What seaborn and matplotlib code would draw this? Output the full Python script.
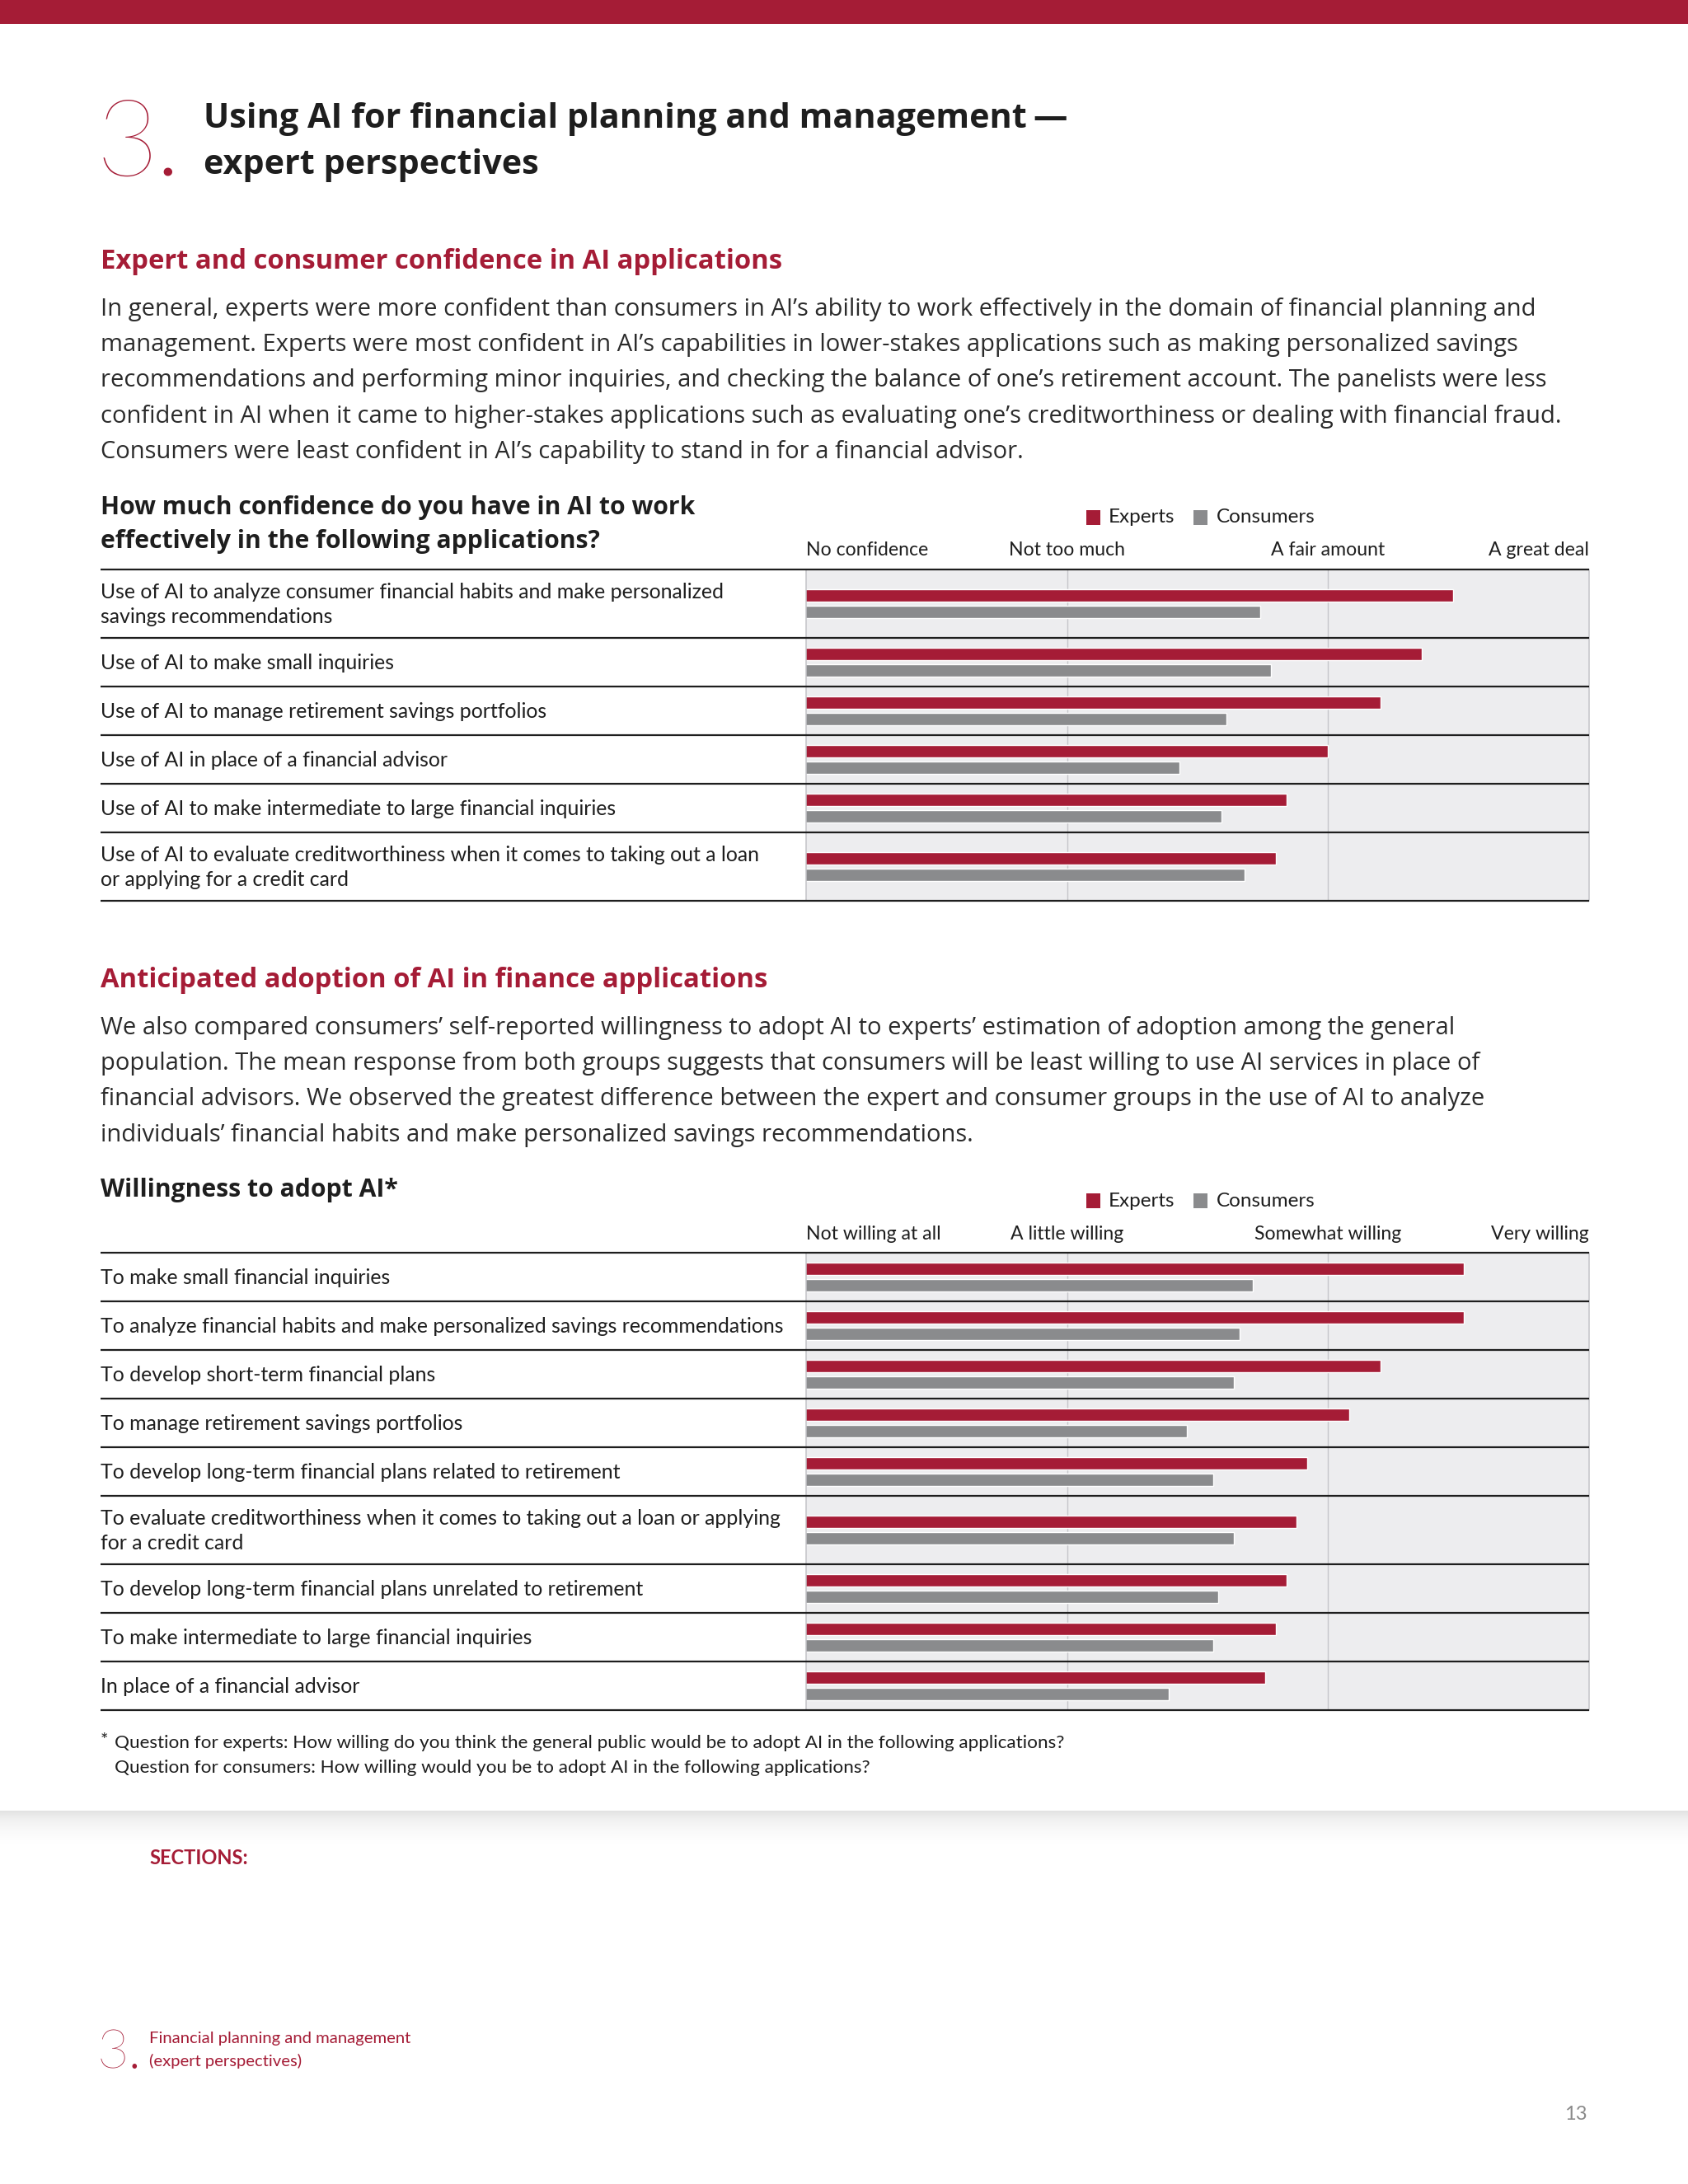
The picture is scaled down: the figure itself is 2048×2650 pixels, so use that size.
import numpy as np
import pandas as pd
import seaborn as sns
import matplotlib.pyplot as plt
from matplotlib.patches import Rectangle

# ---- data ----
conf_labels = [
    "Use of AI to analyze consumer financial habits and make personalized\nsavings recommendations",
    "Use of AI to make small inquiries",
    "Use of AI to manage retirement savings portfolios",
    "Use of AI in place of a financial advisor",
    "Use of AI to make intermediate to large financial inquiries",
    "Use of AI to evaluate creditworthiness when it comes to taking out a loan\nor applying for a credit card",
]
conf_experts = [3.48, 3.36, 3.20, 3.00, 2.84, 2.80]
conf_consumers = [2.74, 2.78, 2.61, 2.43, 2.59, 2.68]
conf_ticks = ["No confidence", "Not too much", "A fair amount", "A great deal"]

adopt_labels = [
    "To make small financial inquiries",
    "To analyze financial habits and make personalized savings recommendations",
    "To develop short-term financial plans",
    "To manage retirement savings portfolios",
    "To develop long-term financial plans related to retirement",
    "To evaluate creditworthiness when it comes to taking out a loan or applying\nfor a credit card",
    "To develop long-term financial plans unrelated to retirement",
    "To make intermediate to large financial inquiries",
    "In place of a financial advisor",
]
adopt_experts = [3.52, 3.52, 3.20, 3.08, 2.92, 2.88, 2.84, 2.80, 2.76]
adopt_consumers = [2.71, 2.66, 2.64, 2.46, 2.56, 2.64, 2.58, 2.56, 2.39]
adopt_ticks = ["Not willing at all", "A little willing", "Somewhat willing", "Very willing"]

groups = ["Experts", "Consumers"]

para1 = [
    "In general, experts were more confident than consumers in AI\u2019s ability to work effectively in the domain of financial planning and",
    "management. Experts were most confident in AI\u2019s capabilities in lower-stakes applications such as making personalized savings",
    "recommendations and performing minor inquiries, and checking the balance of one\u2019s retirement account. The panelists were less",
    "confident in AI when it came to higher-stakes applications such as evaluating one\u2019s creditworthiness or dealing with financial fraud.",
    "Consumers were least confident in AI\u2019s capability to stand in for a financial advisor.",
]
para2 = [
    "We also compared consumers\u2019 self-reported willingness to adopt AI to experts\u2019 estimation of adoption among the general",
    "population. The mean response from both groups suggests that consumers will be least willing to use AI services in place of",
    "financial advisors. We observed the greatest difference between the expert and consumer groups in the use of AI to analyze",
    "individuals\u2019 financial habits and make personalized savings recommendations.",
]

# ---- style ----
RED = "#A51C36"
GREY = "#8A8B8D"
PANEL = "#EDEDEF"
GRID = "#C6C6CA"
INK = "#1E1E1E"
BODY = "#2B2B2B"

sns.set_theme(style="white")
plt.rcParams["font.family"] = ["Open Sans", "DejaVu Sans"]
NARROW = ["Lato", "DejaVu Sans"]

W, H = 2048, 2650
X0, X1 = 978, 1928      # plot area in pixels
LX = 122                # left text margin

fig = plt.figure(figsize=(W / 100, H / 100), dpi=100)
fig.patch.set_facecolor("white")
page = fig.add_axes([0, 0, 1, 1], zorder=5)
page.patch.set_alpha(0)


def draw_chart(labels, experts, consumers, ticks, top):
    y = top
    page.plot([LX, X1], [y, y], color=INK, lw=1.6, solid_capstyle="butt")
    for i, (lab, e, c) in enumerate(zip(labels, experts, consumers)):
        h = 59 + 24 * lab.count("\n")
        ax = fig.add_axes([X0 / W, 1 - (y + h) / H, (X1 - X0) / W, h / H], zorder=1)
        df = pd.DataFrame({"group": groups, "score": [e, c]})
        sns.barplot(data=df, x="score", y="group", hue="group", order=groups,
                    hue_order=groups, palette={"Experts": RED, "Consumers": GREY},
                    width=0.75, saturation=1, legend=False, ax=ax)
        ax.set_xlim(1, 4)
        ax.set_ylim(0.5 + h / 40, 0.5 - h / 40)
        ax.set_facecolor(PANEL)
        for v in (2, 3):
            ax.axvline(v, color=GRID, lw=1, zorder=0)
        ax.set_xlabel("")
        ax.set_ylabel("")
        ax.set_yticks([])
        for s in ("top", "bottom"):
            ax.spines[s].set_visible(False)
        for s in ("left", "right"):
            ax.spines[s].set_color("#C4C4C8")
            ax.spines[s].set_linewidth(1.1)
        if i == 0:
            ax.xaxis.tick_top()
            ax.set_xticks([1, 2, 3, 4], ticks)
            ax.tick_params(axis="x", length=0, pad=9, labelsize=16.6, labelcolor=INK)
            tl = ax.get_xticklabels()
            for t in tl:
                t.set_family(NARROW)
            tl[0].set_ha("left")
            tl[-1].set_ha("right")
        else:
            ax.set_xticks([])
        page.text(LX, y + h / 2 + 1, lab, ha="left", va="center", fontsize=17.9,
                  family=NARROW, color=INK, linespacing=1.35)
        y += h
        page.plot([LX, X1], [y, y], color=INK, lw=1.6, solid_capstyle="butt")


def legend(ypos):
    page.add_patch(Rectangle((1318, ypos - 9), 17, 18, color=RED, lw=0))
    page.text(1345, ypos, "Experts", va="center", fontsize=17.5, family=NARROW, color=INK)
    page.add_patch(Rectangle((1448, ypos - 9), 17, 18, color=GREY, lw=0))
    page.text(1476, ypos, "Consumers", va="center", fontsize=17.5, family=NARROW, color=INK)


# top band
page.add_patch(Rectangle((0, 0), W, 29, color=RED, lw=0))

# title block
page.text(116, 214, "3", fontsize=94, color=RED, fontweight="light",
          family=["Lato", "Open Sans"], va="baseline")
page.text(193, 213, ".", fontsize=60, color=RED, family=["Lato", "Open Sans"],
          va="baseline")
page.text(247, 155, "Using AI for financial planning and management\u2009\u2014", fontsize=29.8,
          fontweight="bold", color=INK, va="baseline")
page.text(247, 211, "expert perspectives", fontsize=29.8, fontweight="bold",
          color=INK, va="baseline")

# section 1
page.text(LX, 318, "Expert and consumer confidence in AI applications", fontsize=23.6,
          fontweight="bold", color=RED, va="center")
for k, line in enumerate(para1):
    page.text(LX, 375 + 43.4 * k, line, fontsize=21, color=BODY, va="center")
page.text(LX, 616, "How much confidence do you have in AI to work", fontsize=21.7,
          fontweight="bold", color=INK, va="center")
page.text(LX, 657, "effectively in the following applications?", fontsize=21.7,
          fontweight="bold", color=INK, va="center")
legend(628)
draw_chart(conf_labels, conf_experts, conf_consumers, conf_ticks, 691)

# section 2
page.text(LX, 1190, "Anticipated adoption of AI in finance applications", fontsize=23.6,
          fontweight="bold", color=RED, va="center")
for k, line in enumerate(para2):
    page.text(LX, 1247 + 43.4 * k, line, fontsize=21, color=BODY, va="center")
page.text(LX, 1444, "Willingness to adopt AI*", fontsize=21.7, fontweight="bold",
          color=INK, va="center")
legend(1457)
draw_chart(adopt_labels, adopt_experts, adopt_consumers, adopt_ticks, 1520)

# footnote
page.text(LX, 2112, "*", fontsize=16, family=NARROW, color=INK, va="center")
page.text(139, 2115, "Question for experts: How willing do you think the general public would be to adopt AI in the following applications?",
          fontsize=16.2, family=NARROW, color=INK, va="center")
page.text(139, 2145, "Question for consumers: How willing would you be to adopt AI in the following applications?",
          fontsize=16.2, family=NARROW, color=INK, va="center")

# footer shadow + navigation
grad = (1 - 0.2 * np.linspace(1, 0, 60) ** 2).reshape(-1, 1)
page.imshow(grad, cmap="Greys_r", vmin=0, vmax=1, aspect="auto",
            extent=[0, W, 2245, 2197], zorder=0)
page.text(181, 2254, "SECTIONS:", fontsize=17, fontweight="bold", family=NARROW,
          color=RED, va="center")
page.text(118, 2510, "3", fontsize=48, color=RED, fontweight="light",
          family=["Lato", "Open Sans"], va="baseline")
page.text(157, 2510, ".", fontsize=32, color=RED, family=["Lato", "Open Sans"],
          va="baseline")
page.text(181, 2474, "Financial planning and management", fontsize=14.6, family=NARROW,
          color=RED, va="center")
page.text(181, 2501, "(expert perspectives)", fontsize=14.6, family=NARROW,
          color=RED, va="center")
page.text(1926, 2565, "13", fontsize=17, family=NARROW, color="#8A8A8A",
          ha="right", va="center")

page.set_xlim(0, W)
page.set_ylim(H, 0)
page.axis("off")

fig.savefig("out.png", dpi=100, facecolor="white")
